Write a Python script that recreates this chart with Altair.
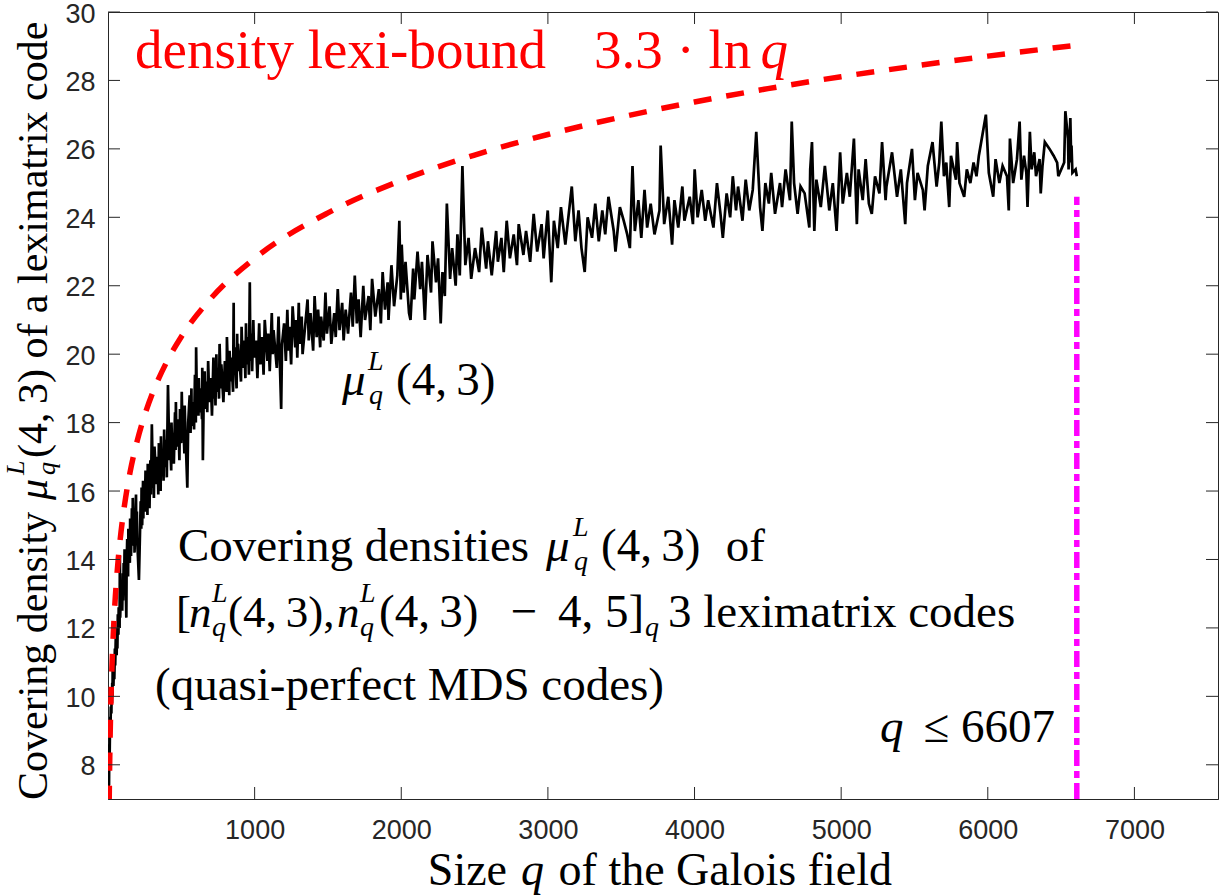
import altair as alt
import pandas as pd

SERIF = "Liberation Serif"
SANS = "Liberation Sans"
AX = "#262626"
W, H = 1110, 787

# ---------------- data ----------------
x_ticks = [1000, 2000, 3000, 4000, 5000, 6000, 7000]
y_ticks = [8, 10, 12, 14, 16, 18, 20, 22, 24, 26, 28, 30]
x_domain = [0, 7570]
y_domain = [7, 30]

# covering density mu_q^L(4,3), q <= 200
series_small_q = [
    (3, 6.5), (4, 7.2), (5, 7.6), (7, 7.4), (8, 8.1), (9, 8.6), (11, 8.2), (13, 8.9),
    (16, 9.4), (17, 8.9), (19, 9.7), (23, 9.5), (25, 10.2), (27, 9.8), (29, 10.4),
    (31, 10.0), (32, 10.9), (37, 10.3), (41, 11.0), (43, 10.5), (47, 11.4), (49, 10.9),
    (53, 11.7), (59, 11.2), (61, 12.0), (64, 11.4), (67, 12.4), (71, 11.8), (73, 12.6),
    (79, 12.0), (81, 14.1), (83, 12.3), (89, 13.2), (97, 12.5), (101, 13.6), (103, 12.8),
    (107, 13.9), (109, 13.0), (113, 14.3), (121, 13.2), (125, 12.3), (127, 13.8),
    (131, 14.6), (137, 13.5), (139, 14.9), (149, 13.9), (151, 15.2), (157, 14.1),
    (163, 15.5), (167, 14.4), (169, 15.8), (173, 14.6), (179, 15.3), (181, 14.2),
    (191, 15.9), (193, 14.8), (197, 15.4), (199, 14.6),
]

# 200 < q < 1000
series_mid_q = [
    (211, 13.4), (223, 15.7), (227, 14.9), (229, 16.1), (233, 15.0), (239, 16.3),
    (241, 15.2), (243, 16.0), (251, 15.4), (256, 16.6), (257, 15.5), (263, 16.4),
    (269, 15.3), (271, 16.8), (277, 15.7), (281, 16.3), (283, 15.5), (289, 16.9),
    (293, 15.9), (299, 17.95), (307, 16.1), (311, 16.9), (313, 15.8), (317, 17.3),
    (331, 16.2), (337, 17.0), (343, 15.9), (347, 17.4), (349, 16.3), (353, 17.1),
    (359, 16.0), (361, 17.6), (367, 16.5), (373, 17.2), (379, 16.3), (383, 17.8),
    (389, 16.7), (397, 17.5), (401, 16.4), (409, 19.1), (419, 16.9), (421, 17.8),
    (431, 16.6), (433, 18.0), (439, 17.0), (443, 17.7), (449, 16.8), (457, 18.3),
    (461, 17.2), (463, 18.6), (467, 17.3), (479, 18.1), (487, 16.9), (491, 18.4),
    (499, 17.4), (503, 18.9), (509, 17.5), (512, 18.2), (521, 17.1), (523, 18.5),
    (529, 17.6), (541, 16.1), (547, 18.0), (557, 18.8), (563, 17.7), (569, 19.0),
    (571, 17.9), (577, 18.6), (587, 17.8), (593, 19.4), (599, 18.0), (601, 20.2),
    (607, 18.4), (613, 19.1), (617, 18.2), (619, 19.3), (625, 18.3), (631, 19.0),
    (641, 18.1), (643, 19.6), (647, 16.9), (653, 18.8), (659, 19.5), (661, 18.4),
    (673, 19.2), (677, 18.3), (683, 19.8), (691, 18.6), (701, 19.3), (709, 18.2),
    (719, 19.9), (727, 18.7), (729, 19.4), (733, 18.5), (739, 20.0), (743, 18.9),
    (751, 19.6), (757, 18.7), (761, 20.3), (769, 19.0), (773, 19.7), (787, 18.6),
    (797, 19.8), (809, 18.9), (811, 20.5), (821, 19.1), (823, 19.8), (827, 18.8),
    (829, 20.1), (839, 19.2), (841, 19.9), (853, 18.9), (857, 21.5), (859, 19.4),
    (863, 20.2), (877, 19.0), (881, 20.6), (883, 19.5), (887, 20.3), (907, 19.2),
    (911, 20.8), (919, 19.6), (929, 20.4), (937, 19.3), (941, 20.9), (947, 19.7),
    (953, 20.5), (961, 19.4), (967, 22.1), (971, 19.8), (977, 20.6), (983, 19.5),
    (991, 21.0), (997, 19.9),
]

# 1000 < q < 3000
series_large_q = [
    (1009, 20.4), (1019, 19.3), (1031, 20.9), (1039, 19.7), (1051, 20.5), (1061, 19.4),
    (1069, 21.0), (1087, 19.8), (1093, 20.6), (1103, 19.5), (1117, 21.2), (1123, 20.0),
    (1129, 20.7), (1151, 19.6), (1163, 21.1), (1171, 19.9), (1181, 18.4), (1187, 20.3),
    (1201, 20.9), (1213, 19.8), (1223, 21.3), (1231, 20.1), (1237, 20.8), (1249, 19.7),
    (1259, 21.4), (1277, 20.2), (1283, 21.0), (1291, 19.9), (1301, 21.5), (1307, 20.3),
    (1321, 21.1), (1327, 20.0), (1361, 21.6), (1369, 20.4), (1381, 21.2), (1399, 20.1),
    (1409, 21.7), (1423, 20.5), (1433, 21.3), (1447, 20.2), (1453, 21.1), (1471, 20.4),
    (1483, 21.8), (1493, 20.6), (1511, 21.4), (1523, 20.3), (1543, 21.2), (1553, 20.5),
    (1567, 21.9), (1579, 20.7), (1597, 21.5), (1607, 20.4), (1621, 21.3), (1637, 20.6),
    (1657, 21.8), (1669, 20.8), (1683, 22.3), (1697, 20.9), (1709, 21.6), (1723, 20.5),
    (1741, 22.0), (1753, 21.0), (1777, 21.7), (1789, 20.7), (1801, 22.2), (1823, 21.1),
    (1847, 21.9), (1861, 20.9), (1873, 22.4), (1889, 21.3), (1907, 22.1), (1913, 21.0),
    (1933, 22.6), (1951, 21.4), (1973, 22.3), (1987, 23.9), (1997, 21.6), (2003, 23.2),
    (2017, 21.8), (2029, 22.7), (2053, 21.2), (2063, 21.0), (2081, 22.5), (2089, 21.6),
    (2111, 23.0), (2129, 21.9), (2141, 22.7), (2161, 21.0), (2179, 22.9), (2203, 21.8),
    (2213, 23.3), (2237, 22.1), (2251, 22.8), (2269, 20.9), (2281, 22.4), (2297, 21.7),
    (2311, 24.4), (2333, 22.2), (2347, 23.1), (2371, 22.0), (2383, 23.5), (2399, 22.3),
    (2417, 25.5), (2437, 22.6), (2459, 23.4), (2477, 22.2), (2503, 23.1), (2531, 22.4),
    (2549, 23.7), (2579, 22.5), (2591, 23.3), (2617, 22.3), (2647, 23.6), (2659, 22.7),
    (2683, 23.4), (2699, 22.4), (2719, 23.9), (2741, 22.8), (2767, 23.5), (2789, 22.6),
    (2801, 23.8), (2833, 22.9), (2851, 23.6), (2879, 22.7), (2903, 24.1), (2927, 23.0),
    (2957, 23.8), (2971, 22.8), (2999, 24.2),
]

# 3000 < q <= 6607
series_top_q = [
    (3023, 22.1), (3041, 23.9), (3067, 23.1), (3089, 24.3), (3119, 23.2), (3137, 23.9),
    (3163, 24.9), (3187, 23.3), (3209, 24.2), (3229, 23.1), (3251, 22.4), (3271, 24.0),
    (3301, 23.4), (3323, 24.4), (3347, 23.3), (3371, 24.2), (3391, 23.5), (3413, 24.6),
    (3449, 23.6), (3461, 23.0), (3491, 24.3), (3517, 23.9), (3541, 23.5), (3559, 23.1),
    (3577, 25.5), (3593, 23.6), (3617, 24.5), (3637, 23.4), (3659, 24.8), (3677, 23.7),
    (3701, 24.4), (3727, 23.5), (3761, 24.2), (3769, 26.1), (3793, 23.8), (3821, 24.6),
    (3847, 23.2), (3863, 24.5), (3889, 23.7), (3917, 24.9), (3931, 23.9), (3967, 24.6),
    (3989, 23.8), (4001, 25.4), (4021, 24.0), (4049, 24.8), (4073, 23.9), (4093, 24.5),
    (4129, 23.7), (4153, 25.0), (4177, 24.1), (4193, 23.4), (4219, 24.7), (4243, 24.0),
    (4261, 25.2), (4283, 24.2), (4297, 24.9), (4327, 23.9), (4349, 25.1), (4373, 24.2),
    (4397, 24.8), (4421, 26.5), (4447, 24.3), (4463, 23.6), (4483, 25.0), (4507, 24.4),
    (4523, 25.3), (4549, 24.1), (4583, 25.0), (4597, 24.3), (4621, 25.4), (4651, 24.5),
    (4663, 26.8), (4679, 25.0), (4703, 24.1), (4723, 24.9), (4751, 24.7), (4783, 23.7),
    (4789, 25.4), (4801, 26.2), (4817, 23.6), (4831, 25.1), (4861, 24.3), (4889, 25.5),
    (4919, 24.2), (4943, 25.0), (4969, 23.6), (4993, 25.9), (5011, 24.4), (5039, 25.3),
    (5059, 24.6), (5087, 26.3), (5107, 23.8), (5119, 25.4), (5147, 24.5), (5167, 25.7),
    (5189, 24.4), (5209, 24.1), (5231, 25.2), (5261, 24.7), (5279, 26.2), (5303, 24.5),
    (5309, 24.9), (5347, 25.9), (5381, 24.6), (5407, 25.4), (5437, 23.8), (5449, 25.0),
    (5483, 26.0), (5503, 24.5), (5521, 25.3), (5557, 24.8), (5569, 24.2), (5591, 25.5),
    (5623, 26.2), (5651, 24.9), (5669, 25.6), (5683, 26.8), (5701, 25.2), (5717, 25.6),
    (5737, 24.3), (5749, 25.8), (5783, 25.1), (5791, 26.2), (5807, 25.0), (5839, 24.6),
    (5857, 25.4), (5881, 25.0), (5903, 25.6), (5923, 25.2), (5939, 25.8), (5987, 27.0),
    (6007, 25.3), (6037, 24.6), (6053, 25.7), (6079, 25.0), (6101, 25.5), (6131, 25.2),
    (6143, 24.2), (6151, 26.3), (6173, 25.0), (6199, 25.7), (6217, 26.8), (6229, 25.1),
    (6247, 25.8), (6263, 25.3), (6271, 24.3), (6287, 26.5), (6299, 25.4), (6317, 25.9),
    (6329, 25.2), (6353, 25.7), (6361, 24.7), (6373, 25.5), (6389, 26.2), (6421, 26.0),
    (6449, 25.8), (6473, 25.6), (6481, 25.2), (6521, 25.6), (6529, 27.1), (6547, 26.3),
    (6551, 25.4), (6563, 26.9), (6569, 25.6), (6571, 26.1), (6577, 25.3), (6599, 25.4),
    (6607, 25.2),
]

# red dashed bound 3.3 ln q
bound_q = [8, 9, 10, 12, 15, 20, 25, 30, 40, 50, 60, 70, 80, 100, 120, 150, 200, 250,
           300, 400, 500, 700, 1000, 1500, 2000, 2500, 3000, 3500, 4000, 4500, 5000,
           5500, 6000, 6607]
bound_v = [6.86, 7.25, 7.60, 8.20, 8.94, 9.89, 10.62, 11.22, 12.17, 12.91, 13.51,
           14.02, 14.46, 15.20, 15.80, 16.54, 17.48, 18.22, 18.82, 19.77, 20.51,
           21.62, 22.80, 24.13, 25.08, 25.82, 26.42, 26.93, 27.37, 27.76, 28.11,
           28.42, 28.71, 29.03]

# magenta limit q <= 6607
limit_q = [6607]
limit_y0 = [7.0]
limit_y1 = [24.6]

# ---------------- texts ----------------
TS = "\u2009"  # thin space
t_bound = "density lexi-bound"
t_bound2 = "3.3 · ln"
t_cov = "Covering densities"
t_43 = "(4," + TS + "3)"
t_of = "of"
t_l2a = "["
t_l2b = "(4," + TS + "3),"
t_minus = "−"
t_l2c = "4, 5]"
t_l2d = "3 leximatrix codes"
t_l3 = "(quasi-perfect MDS codes)"
t_le = "≤ 6607"
t_xa = "Size"
t_xb = "of the Galois field"
t_ya = "Covering density"
t_yb = "(4," + TS + "3) of a leximatrix code"

# ---------------- chart ----------------
series = series_small_q + series_mid_q + series_large_q + series_top_q
df_mu = pd.DataFrame(series, columns=["q", "mu"])
df_bound = pd.DataFrame({"q": bound_q, "mu": bound_v})
df_lim = pd.DataFrame({"q": limit_q, "mu": limit_y0, "mu2": limit_y1})
df_xt = pd.DataFrame({"q": x_ticks})
df_yt = pd.DataFrame({"mu": y_ticks})

xs = alt.Scale(domain=x_domain, nice=False, zero=False)
ys = alt.Scale(domain=y_domain, nice=False, zero=False)

x_axis = alt.Axis(values=x_ticks, ticks=False, grid=False, title=None, format="d",
                  labelFont=SANS, labelFontSize=27, labelColor=AX, labelPadding=18,
                  domainColor=AX, domainWidth=1)
y_axis = alt.Axis(values=y_ticks, ticks=False, grid=False, title=None, format="d",
                  labelFont=SANS, labelFontSize=27, labelColor=AX, labelPadding=13,
                  labelOffset=2, domainColor=AX, domainWidth=1)

X = alt.X("q:Q", scale=xs, axis=x_axis)
Y = alt.Y("mu:Q", scale=ys, axis=y_axis)

line = alt.Chart(df_mu).mark_line(color="black", strokeWidth=2.7, clip=True).encode(x=X, y=Y)
bound = alt.Chart(df_bound).mark_line(color="#FF0000", strokeWidth=5.5, strokeDash=[18, 15],
                                      clip=True, interpolate="monotone").encode(x=X, y=Y)
limit = alt.Chart(df_lim).mark_rule(color="#FF00FF", strokeWidth=5.5,
                                    strokeDash=[16, 5, 7, 5]).encode(x=X, y=Y, y2="mu2:Q")

tick_b = alt.Chart(df_xt).mark_rule(color=AX, strokeWidth=1).encode(
    x=X, y=alt.value(H), y2=alt.value(H - 12))
tick_t = alt.Chart(df_xt).mark_rule(color=AX, strokeWidth=1).encode(
    x=X, y=alt.value(0), y2=alt.value(12))
tick_l = alt.Chart(df_yt).mark_rule(color=AX, strokeWidth=1).encode(
    y=Y, x=alt.value(0), x2=alt.value(12))
tick_r = alt.Chart(df_yt).mark_rule(color=AX, strokeWidth=1).encode(
    y=Y, x=alt.value(W), x2=alt.value(W - 12))


OX, OY = 108, 12  # plot origin inside the page


def txt(s, x, y, size, align="left", italic=False, color="black", angle=0):
    """x, y are page pixels; converted to plot-area pixels."""
    kw = dict(align=align, baseline="alphabetic", fontSize=size, font=SERIF,
              fontStyle="italic" if italic else "normal", color=color)
    if angle:
        kw["angle"] = angle
    return alt.Chart(pd.DataFrame({"t": [s]})).mark_text(**kw).encode(
        x=alt.value(x - OX), y=alt.value(y - OY), text="t:N")


B = 47
B2 = 45
S = 28
UP, DN = 25, 9
RED = "#FF0000"
texts = [
    # red bound label
    txt(t_bound, 135, 68, 55, color=RED),
    txt(t_bound2, 594, 68, 55, color=RED),
    txt("q", 788, 68, 55, align="right", italic=True, color=RED),
    # mu label near the curve
    txt("μ", 342, 395, B, italic=True),
    txt("L", 368, 395 - UP, S, italic=True),
    txt("q", 369, 395 + DN, S, italic=True),
    txt(t_43, 396, 395, B),
    # line 1
    txt(t_cov, 178, 561, B),
    txt("μ", 546, 561, B, italic=True),
    txt("L", 573, 561 - UP, S, italic=True),
    txt("q", 574, 561 + DN, S, italic=True),
    txt(t_43, 601, 561, B),
    txt(t_of, 765, 561, B, align="right"),
    # line 2
    txt(t_l2a, 176, 627, B2),
    txt("n", 189, 627, B2, italic=True),
    txt("L", 212, 627 - UP, S, italic=True),
    txt("q", 212, 627 + DN, S, italic=True),
    txt(t_l2b, 228, 627, B2),
    txt("n", 337, 627, B2, italic=True),
    txt("L", 360, 627 - UP, S, italic=True),
    txt("q", 360, 627 + DN, S, italic=True),
    txt(t_43, 379, 627, B),
    txt(t_minus, 524, 627, B, align="center"),
    txt(t_l2c, 558, 627, B),
    txt("q", 645, 627 + DN, S, italic=True),
    txt(t_l2d, 668, 627, B),
    # line 3
    txt(t_l3, 155, 700, B),
    # q <= 6607
    txt("q", 880, 742, B, italic=True),
    txt(t_le, 1055, 742, B, align="right"),
    # x title
    txt(t_xa, 507, 885, 46, align="right"),
    txt("q", 521, 885, 46, italic=True),
    txt(t_xb, 892, 885, 46, align="right"),
    # y title (rotated, baseline at x = 47)
    txt(t_ya, 47, 800, 42, angle=270),
    txt("μ", 47, 500, 42, italic=True, angle=270),
    txt("L", 24, 475, 26, italic=True, angle=270),
    txt("q", 55, 475, 26, italic=True, angle=270),
    txt(t_yb, 47, 458, 42, angle=270),
]

chart = alt.layer(line, bound, limit, tick_b, tick_t, tick_l, tick_r, *texts).properties(
    width=W, height=H,
    padding={"left": OX, "top": OY, "right": 2, "bottom": 97},
    autosize=alt.AutoSizeParams(type="none"),
    background="white",
).configure_view(stroke=AX, strokeWidth=1)

chart.save("out.html", embed_options={"renderer": "svg", "actions": False})
